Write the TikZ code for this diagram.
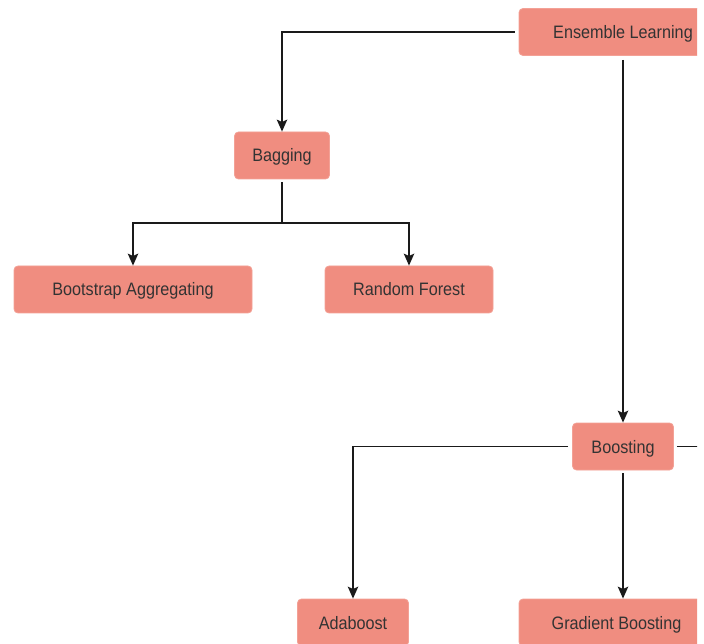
\documentclass[tikz,border=0pt]{standalone}
\usepackage{fontspec}
\setmainfont[FakeStretch=0.9]{Liberation Sans}
\usetikzlibrary{arrows.meta}
\definecolor{boxfill}{HTML}{F08D80}
\definecolor{boxline}{HTML}{F3A196}
\definecolor{txt}{HTML}{333333}
\definecolor{wire}{HTML}{1A1A1A}
\tikzset{
  box/.style={draw=boxline, line width=0.8pt, fill=boxfill, rounded corners=4pt,
    minimum height=47pt, inner sep=0pt, text=txt, text height=13pt, text depth=0pt,
    font=\fontsize{18}{20}\selectfont},
  wirel/.style={draw=wire, line width=1.6pt},
  arr/.style={wirel, -{Stealth[length=12pt,width=10.5pt,inset=2.5pt]}},
}
\begin{document}
\begin{tikzpicture}[x=1pt,y=1pt]
\useasboundingbox (0,-644) rectangle (704,0);
\begin{scope}
\clip (0,-644) rectangle (697,0);
\node[box, minimum width=208pt] (ens) at (623,-32) {Ensemble Learning};
\node[box, minimum width=95pt] (bag) at (282,-155.5) {Bagging};
\node[box, minimum width=238pt] (boot) at (133,-289.5) {Bootstrap Aggregating};
\node[box, minimum width=168pt] (rf) at (409,-289.5) {Random Forest};
\node[box, minimum width=101pt] (boost) at (623,-446.5) {Boosting};
\node[box, minimum width=111pt] (ada) at (353,-622.5) {Adaboost};
\node[box, minimum width=195pt] (grad) at (616.5,-622.5) {Gradient Boosting};
\coordinate (bj) at (282,-223);
\coordinate (bx) at (720,-446.5);
\draw[arr, shorten <=4pt] (ens.west) -| (bag.north);
\draw[arr, shorten <=4pt] (ens.south) -- (boost.north);
\draw[wirel, shorten <=3pt] (bag.south) -- (bj);
\draw[arr] (bj) -| (boot.north);
\draw[arr] (bj) -| (rf.north);
\draw[arr, shorten <=4pt] (boost.west) -| (ada.north);
\draw[arr, shorten <=3pt] (boost.south) -- (boost.south |- grad.north);
\draw[wirel, shorten <=3pt] (boost.east) -- (bx);
\end{scope}
\end{tikzpicture}
\end{document}
